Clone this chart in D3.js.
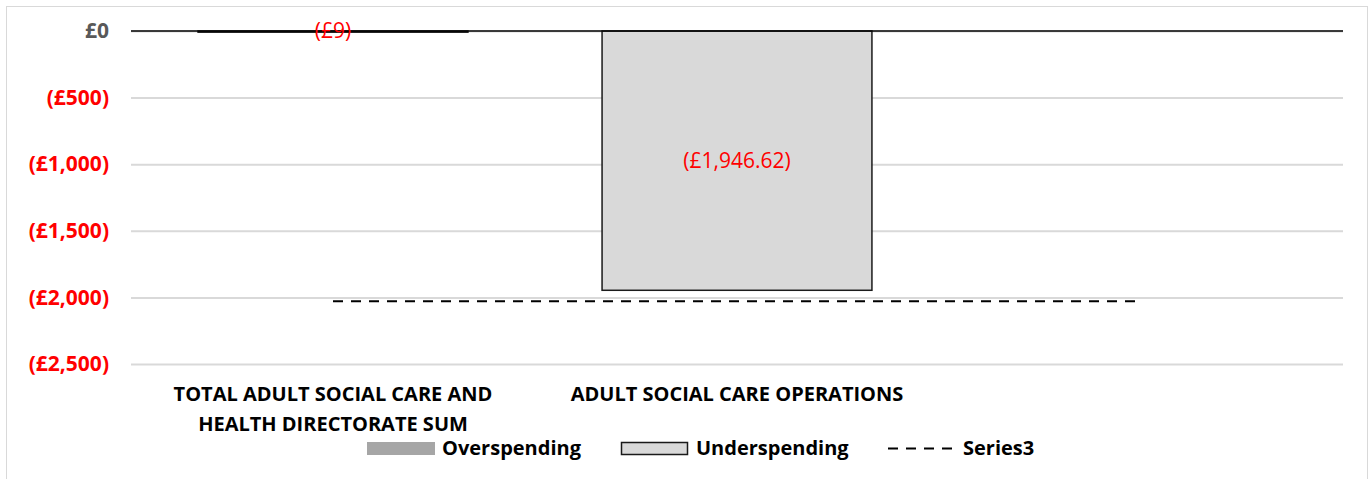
<!DOCTYPE html>
<html><head><meta charset="utf-8">
<script src="https://cdn.jsdelivr.net/npm/d3@7"></script>
<style>
html,body{margin:0;padding:0;background:#fff;}
svg{display:block;font-family:"Open Sans",sans-serif;}
</style></head>
<body>
<svg id="c" width="1372" height="479"></svg>
<script>
const categories = [["TOTAL ADULT SOCIAL CARE AND","HEALTH DIRECTORATE SUM"],["ADULT SOCIAL CARE OPERATIONS"],[""]];
const catKeys = ["c1","c2","c3"];
const overspending = [null, null, null];
const underspending = [-9, -1946.62, null];
const underLabels = ["(£9)", "(£1,946.62)", ""];
const series3 = [-2028, -2028, -2028];
const yTicks = [0,-500,-1000,-1500,-2000,-2500];
const yTickLabels = ["£0","(£500)","(£1,000)","(£1,500)","(£2,000)","(£2,500)"];
const legendNames = ["Overspending","Underspending","Series3"];

const FONT = "'Open Sans',sans-serif";
const svg = d3.select("#c");
svg.append("rect").attr("x",6.5).attr("y",6.5).attr("width",1361).attr("height",480)
  .attr("fill","#fff").attr("stroke","#d9d9d9").attr("stroke-width",1);

const x = d3.scaleBand().domain(catKeys).range([131,1343]).paddingInner(0.332).paddingOuter(0.166);
const xc = d3.scalePoint().domain(catKeys).range([131,1343]).padding(0.5);
const y = d3.scaleLinear().domain([0,-2500]).range([31,364]);

const yAxis = d3.axisLeft(y).tickValues(yTicks).tickSize(-(1343-131)).tickFormat((d,i)=>yTickLabels[i]);
const ga = svg.append("g").attr("transform","translate(131,0)").call(yAxis);
ga.select(".domain").remove();
ga.selectAll(".tick line").attr("stroke","#d9d9d9").attr("stroke-width",2);
ga.selectAll(".tick text").attr("x",-22).attr("font-size",21).attr("font-weight","bold")
  .attr("font-family",FONT)
  .attr("fill",(d)=> d<0 ? "#ff0000" : "#595959");

svg.append("g").selectAll("rect").data(overspending.map((v,i)=>({v,k:catKeys[i]})).filter(d=>d.v!=null))
  .join("rect").attr("x",d=>x(d.k)).attr("width",x.bandwidth())
  .attr("y",d=>y(Math.max(0,d.v))).attr("height",d=>Math.abs(y(d.v)-y(0))).attr("fill","#a6a6a6");

const ud = underspending.map((v,i)=>({v,k:catKeys[i],l:underLabels[i]})).filter(d=>d.v!=null);
svg.append("g").selectAll("rect").data(ud).join("rect")
  .attr("x",d=>x(d.k)).attr("width",x.bandwidth())
  .attr("y",d=>y(Math.max(0,d.v))).attr("height",d=>Math.max(1,Math.abs(y(d.v)-y(0))))
  .attr("fill","#d9d9d9").attr("stroke","#1a1a1a").attr("stroke-width",1.5);

svg.append("line").attr("x1",131).attr("x2",1343).attr("y1",y(0)).attr("y2",y(0))
  .attr("stroke","#000").attr("stroke-width",1.5);

const line = d3.line().x((d,i)=>xc(catKeys[i])).y(d=>y(d));
svg.append("path").attr("d",line(series3)).attr("fill","none").attr("stroke","#000")
  .attr("stroke-width",2).attr("stroke-dasharray","10,8");

svg.append("g").selectAll("text").data(ud).join("text")
  .attr("x",d=>x(d.k)+x.bandwidth()/2)
  .attr("y",d=> d.v<-100 ? (y(0)+y(d.v))/2 : y(0))
  .attr("dy","0.35em").attr("text-anchor","middle").attr("font-size",21)
  .attr("fill","#ff0000").text(d=>d.l);

const cg = svg.append("g");
categories.forEach((lines,i)=>{
  const t = cg.append("text").attr("x",xc(catKeys[i])).attr("y",401).attr("text-anchor","middle")
    .attr("font-size",20).attr("font-weight","bold").attr("fill","#000");
  lines.forEach((s,j)=>t.append("tspan").attr("x",xc(catKeys[i])).attr("dy",j?30:0).text(s));
});

const lg = svg.append("g").attr("font-size",20).attr("font-weight","bold");
lg.append("rect").attr("x",367).attr("y",442).attr("width",68).attr("height",13).attr("fill","#a6a6a6");
lg.append("text").attr("x",442).attr("y",455).text(legendNames[0]);
lg.append("rect").attr("x",621.5).attr("y",442.5).attr("width",66).attr("height",12).attr("fill","#d9d9d9")
  .attr("stroke","#1a1a1a").attr("stroke-width",1.5);
lg.append("text").attr("x",696).attr("y",455).text(legendNames[1]);
lg.append("line").attr("x1",888).attr("x2",952).attr("y1",448.5).attr("y2",448.5)
  .attr("stroke","#000").attr("stroke-width",2).attr("stroke-dasharray","10,8");
lg.append("text").attr("x",963).attr("y",455).text(legendNames[2]);
</script>
</body></html>
